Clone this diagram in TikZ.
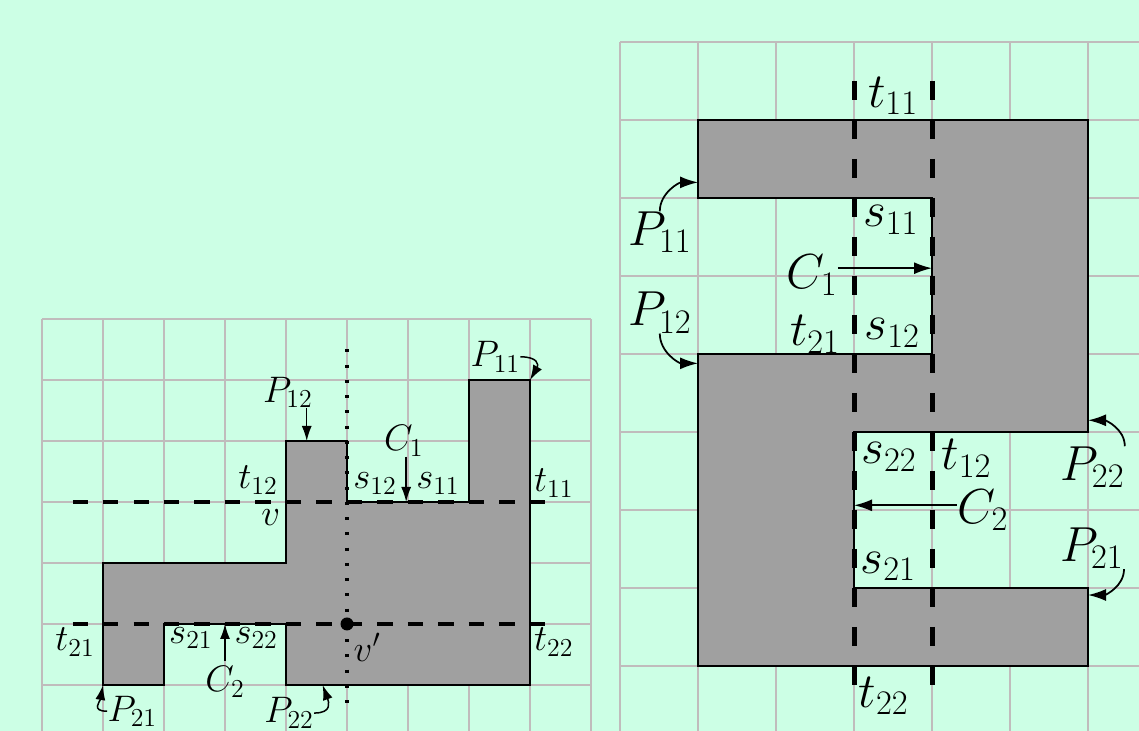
\documentclass[tikz,border=0pt]{standalone}
\usepackage{fix-cm}
\usepackage{amsmath,amssymb}
\usepackage{xcolor}
\usetikzlibrary{arrows.meta}
\definecolor{bgmint}{RGB}{204,255,229}
\definecolor{gridgray}{RGB}{192,188,188}
\definecolor{shapegray}{RGB}{160,160,160}

\begin{document}
\begin{tikzpicture}[
  gridline/.style={draw=gridgray, line width=0.035cm},
  region/.style={draw=black, line width=0.04cm, fill=shapegray},
  cutL/.style={line width=0.08cm, dash pattern=on 0.305cm off 0.305cm},
  cutR/.style={line width=0.1cm, dash pattern=on 0.39cm off 0.39cm},
  dotcut/.style={line width=0.065cm, dash pattern=on 0.06cm off 0.245cm},
  arrL/.style={-{Latex[length=0.3cm,width=0.2cm]}, line width=0.03cm},
  arrR/.style={-{Latex[length=0.36cm,width=0.24cm]}, line width=0.035cm},
  labL/.style={inner sep=0pt, font=\fontsize{21}{25}\selectfont},
  labR/.style={inner sep=0pt, font=\fontsize{28}{33}\selectfont}]
\useasboundingbox (0,0) rectangle (22.78,14.62);
\clip (0,0) rectangle (22.78,14.62);
\fill[bgmint] (0,0) rectangle (22.78,14.62);

% left: two horizontal cuts
\begin{scope}[shift={(0.84,0.92)}, x=1.22cm, y=1.22cm]
\draw[gridline, step=1.22cm] (0,-1) grid (9,6);
\draw[region] (1,0) -- (2,0) -- (2,1) -- (4,1) -- (4,0) -- (8,0) -- (8,5) -- (7,5) -- (7,3)
  -- (5,3) -- (5,4) -- (4,4) -- (4,2) -- (1,2) -- cycle;
\draw[cutL] (0.5,3) -- (8.25,3);
\draw[cutL] (0.5,1) -- (8.25,1);
\draw[dotcut] (5,5.5) -- (5,-0.3);
\node[circle, fill, inner sep=0pt, minimum size=0.26cm] (vp) at (5,1) {};
\coordinate (p12tip) at (4.34,4);
\coordinate (c1tip) at (5.97,3);
\coordinate (c2tip) at (3,1);
\coordinate (p11tip) at (8,5);
\coordinate (p21tip) at (1,0);
\coordinate (p22tip) at (4.6,0);
\node[labL] (P12) at (4.03,4.80) {$P_{12}$};
\node[labL] (C1) at (5.93,4.0) {$C_1$};
\node[labL] (s12) at (5.46,3.30) {$s_{12}$};
\node[labL] (s11) at (6.49,3.30) {$s_{11}$};
\node[labL] (t11) at (8.39,3.31) {$t_{11}$};
\node[labL] (t12) at (3.54,3.36) {$t_{12}$};
\node[labL] (v) at (3.75,2.74) {$v$};
\node[labL] (P11) at (7.43,5.38) {$P_{11}$};
\node[labL] (t21) at (0.54,0.70) {$t_{21}$};
\node[labL] (s21) at (2.44,0.77) {$s_{21}$};
\node[labL] (s22) at (3.51,0.77) {$s_{22}$};
\node[labL] (C2) at (3.0,0.05) {$C_2$};
\node[labL] (P21) at (1.48,-0.43) {$P_{21}$};
\node[labL] (P22) at (4.05,-0.46) {$P_{22}$};
\node[labL] (vlab) at (5.33,0.62) {$v'$};
\node[labL] (t22) at (8.39,0.70) {$t_{22}$};
\draw[arrL] (P12.south -| p12tip) -- (p12tip);
\draw[arrL] (C1.south -| c1tip) -- (c1tip);
\draw[arrL, shorten <=0.1cm] (C2.north -| c2tip) -- (c2tip);
\draw[arrL] (P11.east) to[out=0, in=60, looseness=1.8] (p11tip);
\draw[arrL] (P21.west) to[out=180, in=-100, looseness=1.6] (p21tip);
\draw[arrL] (P22.east) to[out=0, in=-70, looseness=1.6] (p22tip);
\end{scope}

% right: two vertical cuts
\begin{scope}[shift={(12.4,1.30)}, x=1.56cm, y=1.56cm]
\draw[gridline, step=1.56cm] (0,-1) grid (8,8);
\draw[region] (1,7) -- (6,7) -- (6,3) -- (3,3) -- (3,1) -- (6,1) -- (6,0) -- (1,0) -- (1,4)
  -- (4,4) -- (4,6) -- (1,6) -- cycle;
\draw[cutR] (3,7.5) -- (3,-0.25);
\draw[cutR] (4,7.5) -- (4,-0.25);
\coordinate (c1tipR) at (4,5.1);
\coordinate (c2tipR) at (3,2.06);
\coordinate (p11tipR) at (1,6.2);
\coordinate (p12tipR) at (1,3.88);
\coordinate (p22tipR) at (6,3.15);
\coordinate (p21tipR) at (6,0.91);
\node[labR] (T11) at (3.5,7.31) {$t_{11}$};
\node[labR] (S11) at (3.47,5.72) {$s_{11}$};
\node[labR] (K1) at (2.46,5.01) {$C_1$};
\node[labR] (S12) at (3.49,4.27) {$s_{12}$};
\node[labR] (T21) at (2.5,4.25) {$t_{21}$};
\node[labR] (Q11) at (0.51,5.56) {$P_{11}$};
\node[labR] (Q12) at (0.51,4.53) {$P_{12}$};
\node[labR] (S22) at (3.45,2.68) {$s_{22}$};
\node[labR] (T12) at (4.44,2.66) {$t_{12}$};
\node[labR] (K2) at (4.65,2.0) {$C_2$};
\node[labR] (Q22) at (6.06,2.55) {$P_{22}$};
\node[labR] (Q21) at (6.05,1.51) {$P_{21}$};
\node[labR] (S21) at (3.44,1.28) {$s_{21}$};
\node[labR] (T22) at (3.38,-0.38) {$t_{22}$};
\draw[arrR] (K1.east |- c1tipR) -- (c1tipR);
\draw[arrR] (K2.west |- c2tipR) -- (c2tipR);
\draw[arrR] (Q11.north) to[out=90, in=180] (p11tipR);
\draw[arrR] (Q12.south) to[out=-90, in=180] (p12tipR);
\draw[arrR] (Q22.north east) to[out=90, in=0] (p22tipR);
\draw[arrR] (Q21.south east) to[out=-90, in=0] (p21tipR);
\end{scope}
\end{tikzpicture}
\end{document}
